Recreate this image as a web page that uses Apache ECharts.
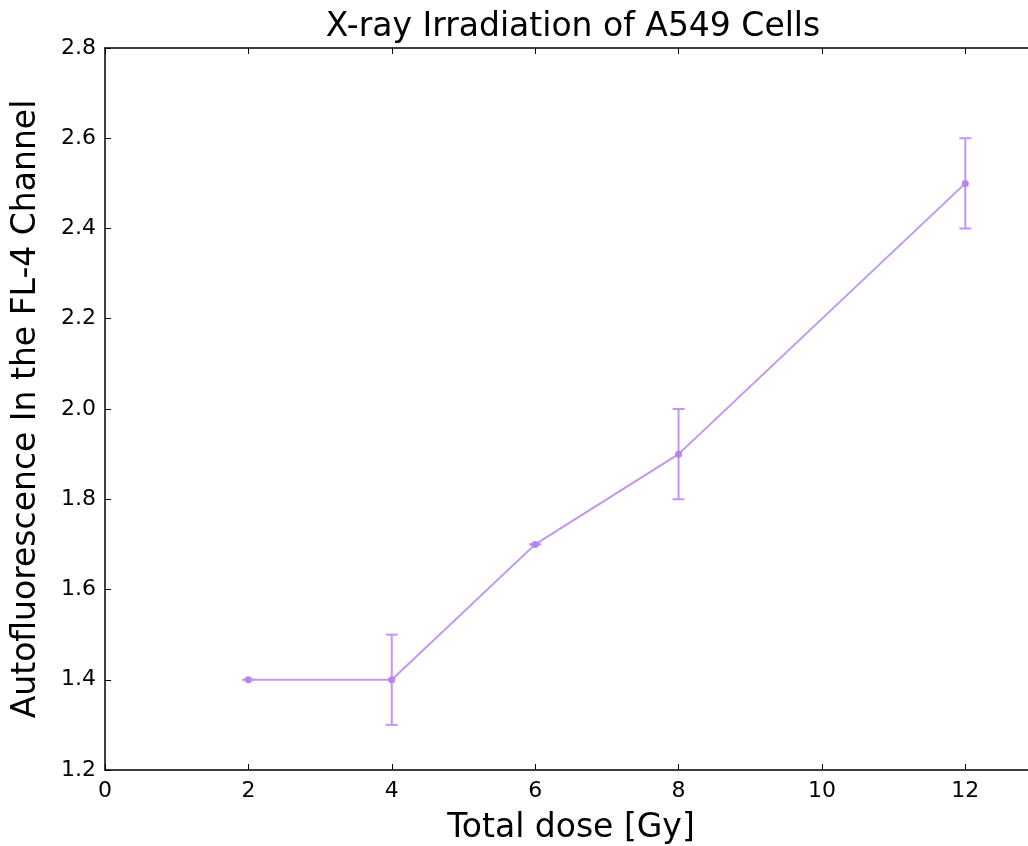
<!DOCTYPE html>
<html>
<head>
<meta charset="utf-8">
<script src="https://cdn.jsdelivr.net/npm/echarts@6/dist/echarts.min.js"></script>
<style>
  html, body { margin: 0; padding: 0; background: #fff; }
  #chart { width: 1028px; height: 846px; }
</style>
</head>
<body>
<div id="chart"></div>
<script>
// Dose levels, mean autofluorescence and symmetric error
const doses = [2, 4, 6, 8, 12];
const signal = [1.4, 1.4, 1.7, 1.9, 2.5];
const errors = [0, 0.1, 0, 0.1, 0.1];

const xRange = [0, 13];
const yTicks = [1.2, 1.4, 1.6, 1.8, 2.0, 2.2, 2.4, 2.6, 2.8];

const lineColor = '#c396f0';
const font = 'DejaVu Sans';

const points = doses.map((d, i) => [d, signal[i]]);
const bars = doses.map((d, i) => [d, signal[i] - errors[i], signal[i] + errors[i]]);

const chart = echarts.init(document.getElementById('chart'));

const axisBase = {
  axisLine: { show: true, onZero: false, lineStyle: { color: '#000', width: 1.5 } },
  axisTick: { show: true, inside: true, length: 6, lineStyle: { color: '#000', width: 1 } },
  splitLine: { show: false }
};

chart.setOption({
  animation: false,
  title: {
    text: 'X-ray Irradiation of A549 Cells',
    left: 568, top: 6, textAlign: 'center',
    textStyle: { fontFamily: font, fontSize: 33, fontWeight: 'normal', color: '#000' }
  },
  // the plot frame runs slightly past the right edge of the page
  grid: { left: 105, top: 48, right: -9, bottom: 76, outerBoundsMode: 'none', containLabel: false },
  xAxis: [
    Object.assign({}, axisBase, {
      type: 'value', min: xRange[0], max: xRange[1], interval: 2,
      position: 'bottom',
      name: 'Total dose [Gy]', nameLocation: 'middle', nameGap: 42,
      nameTextStyle: { fontFamily: font, fontSize: 33, color: '#000' },
      axisLabel: { fontFamily: font, fontSize: 22, color: '#000', margin: 10, showMaxLabel: false }
    }),
    Object.assign({}, axisBase, {
      type: 'value', min: xRange[0], max: xRange[1], interval: 2,
      position: 'top', axisLabel: { show: false }
    })
  ],
  yAxis: [
    Object.assign({}, axisBase, {
      type: 'value', min: yTicks[0], max: yTicks[yTicks.length - 1], interval: 0.2,
      position: 'left',
      name: 'Autofluorescence In the FL-4 Channel', nameLocation: 'middle', nameGap: 62,
      nameTextStyle: { fontFamily: font, fontSize: 33, color: '#000' },
      axisLabel: { fontFamily: font, fontSize: 22, color: '#000', margin: 9,
        formatter: v => v.toFixed(1) }
    }),
    Object.assign({}, axisBase, {
      type: 'value', min: yTicks[0], max: yTicks[yTicks.length - 1], interval: 0.2,
      position: 'right', axisLabel: { show: false }
    })
  ],
  series: [
    {
      type: 'line',
      data: points,
      symbol: 'circle',
      symbolSize: 7,
      lineStyle: { color: lineColor, width: 2 },
      itemStyle: { color: '#b984ee' },
      z: 3
    },
    {
      type: 'custom',
      data: bars,
      z: 2,
      renderItem: (params, api) => {
        const x = api.value(0);
        const lo = api.coord([x, api.value(1)]);
        const hi = api.coord([x, api.value(2)]);
        const cap = 6;
        const style = { stroke: lineColor, lineWidth: 2, fill: null };
        return {
          type: 'group',
          children: [
            { type: 'line', shape: { x1: lo[0], y1: lo[1], x2: hi[0], y2: hi[1] }, style },
            { type: 'line', shape: { x1: lo[0] - cap, y1: lo[1], x2: lo[0] + cap, y2: lo[1] }, style },
            { type: 'line', shape: { x1: hi[0] - cap, y1: hi[1], x2: hi[0] + cap, y2: hi[1] }, style }
          ]
        };
      }
    }
  ]
});
</script>
</body>
</html>
